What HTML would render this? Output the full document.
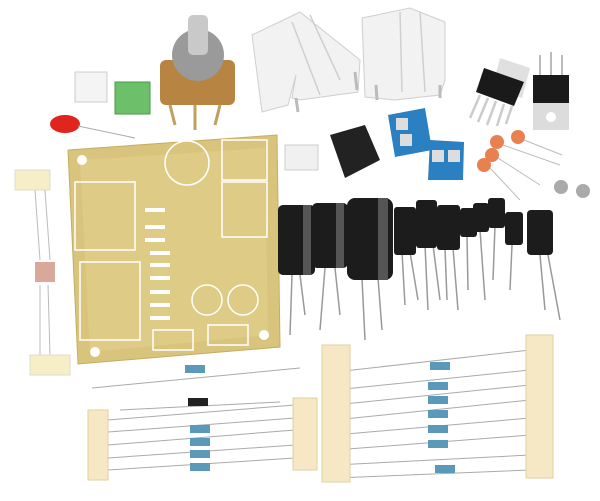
<!DOCTYPE html><html><head><style>html,body{margin:0;padding:0;background:#fff}svg{display:block}</style></head><body>
<svg width="600" height="501" viewBox="0 0 600 501" xmlns="http://www.w3.org/2000/svg" font-family="Liberation Sans, sans-serif">
<rect width="600" height="501" fill="#fff"/>
<!-- heatsinks -->
<g fill="#f2f2f2" stroke="#cfcfcf">
<path d="M252 35 L300 12 L360 60 L358 92 L300 100 L292 98 L296 75 L288 105 L262 112 Z"/>
<path d="M362 18 L410 8 L445 22 L445 80 L440 95 L395 100 L365 97 Z"/>
</g>
<g stroke="#cfcfcf" fill="none" stroke-width="1.5"><path d="M292 22 L320 95 M310 15 L340 80 M400 12 L402 92 M420 12 L425 92"/></g>
<g stroke="#bbb" stroke-width="3"><path d="M296 98 L298 112 M355 72 L357 90 M376 85 L377 100 M440 85 L440 98"/></g>
<!-- potentiometer -->
<rect x="160" y="60" width="75" height="45" fill="#b88442" rx="6"/>
<circle cx="198" cy="55" r="26" fill="#9a9a9a"/>
<rect x="188" y="15" width="20" height="40" fill="#c9c9c9" rx="5"/>
<g stroke="#c0a060" stroke-width="3"><path d="M170 105 L175 125 M195 105 L195 130 M220 105 L215 125"/></g>
<!-- small connectors -->
<rect x="75" y="72" width="32" height="30" fill="#f4f4f4" stroke="#ccc"/>
<rect x="115" y="82" width="35" height="32" fill="#6dc06a" stroke="#4a9a48"/>
<ellipse cx="65" cy="124" rx="15" ry="9" fill="#e0241e"/>
<path d="M78 126 L135 138" stroke="#aaa"/>
<!-- transistors -->
<polygon points="500,58 530,68 522,98 492,88" fill="#e0e0e0"/>
<polygon points="484,68 524,82 514,106 476,92" fill="#1a1a1a"/>
<g stroke="#ccc" stroke-width="2.5"><path d="M480 95 L470 118 M488 98 L478 122 M496 101 L487 125 M504 104 L497 126 M512 106 L506 124"/></g>
<rect x="533" y="100" width="36" height="30" fill="#dcdcdc"/><circle cx="551" cy="117" r="5" fill="#fff"/>
<rect x="533" y="75" width="36" height="28" fill="#1a1a1a"/>
<g stroke="#bbb" stroke-width="2"><path d="M540 55 L540 75 M551 52 L551 75 M562 55 L562 75"/></g>
<!-- terminal blocks -->
<polygon points="388,115 425,108 432,150 395,157" fill="#2a80c0"/><rect x="396" y="118" width="12" height="12" fill="#ddd"/><rect x="400" y="134" width="12" height="12" fill="#ddd"/>
<polygon points="430,140 464,142 463,180 428,180" fill="#2a80c0"/><rect x="432" y="150" width="12" height="12" fill="#ddd"/><rect x="448" y="150" width="12" height="12" fill="#ddd"/>
<!-- jack -->
<polygon points="330,135 365,125 380,160 345,178" fill="#222"/><rect x="285" y="145" width="33" height="25" fill="#f0f0f0" stroke="#ccc"/>
<!-- ceramic caps -->
<g fill="#e88050"><circle cx="518" cy="137" r="7"/><circle cx="497" cy="142" r="7"/><circle cx="492" cy="155" r="7"/><circle cx="484" cy="165" r="7"/></g>
<g stroke="#bbb"><path d="M524 140 L562 155 M503 145 L560 165 M498 158 L540 185 M490 168 L520 200"/></g>
<circle cx="561" cy="187" r="7" fill="#aaa"/><circle cx="583" cy="191" r="7" fill="#aaa"/>
<!-- PCB -->
<polygon points="68,150 277,135 280,347 78,364" fill="#d8c47c" stroke="#c4ae62"/>
<polygon points="80,160 265,148 268,335 90,352" fill="#e2d28e" opacity=".6"/>
<g fill="none" stroke="#fff" stroke-width="1.5">
<rect x="75" y="182" width="60" height="68"/><rect x="80" y="262" width="60" height="78"/>
<rect x="222" y="140" width="45" height="40"/><rect x="222" y="182" width="45" height="55"/>
<circle cx="187" cy="163" r="22"/><circle cx="207" cy="300" r="15"/><circle cx="243" cy="300" r="15"/>
<rect x="153" y="330" width="40" height="20"/><rect x="208" y="325" width="40" height="20"/>
</g>
<g stroke="#fff" stroke-width="4"><path d="M145 210 L165 210 M145 227 L165 227 M145 240 L165 240 M150 253 L170 253 M150 265 L170 265 M150 278 L170 278 M150 292 L170 292 M150 305 L170 305 M150 318 L170 318"/></g>
<circle cx="82" cy="160" r="5" fill="#fff"/><circle cx="95" cy="352" r="5" fill="#fff"/><circle cx="264" cy="335" r="5" fill="#fff"/>
<!-- electrolytic caps -->
<g stroke="#999" stroke-width="1.5"><path d="M292 275 L290 335 M300 275 L305 315 M325 268 L320 330 M335 268 L340 315 M362 278 L365 340 M378 278 L382 330 M402 252 L405 305 M410 252 L418 300 M425 245 L428 310 M433 245 L440 300 M445 248 L447 300 M453 248 L458 310 M467 235 L468 290 M480 230 L485 300 M495 226 L493 280 M512 245 L510 290 M540 255 L545 310 M548 255 L560 320"/></g>
<g fill="#1c1c1c">
<rect x="278" y="205" width="37" height="70" rx="5"/><rect x="312" y="203" width="36" height="65" rx="5"/>
<rect x="347" y="198" width="46" height="82" rx="8"/><rect x="394" y="207" width="22" height="48" rx="3"/>
<rect x="416" y="200" width="21" height="48" rx="3"/><rect x="437" y="205" width="23" height="45" rx="3"/>
<rect x="460" y="208" width="17" height="29" rx="3"/><rect x="473" y="203" width="16" height="29" rx="3"/>
<rect x="488" y="198" width="17" height="30" rx="3"/><rect x="505" y="212" width="18" height="33" rx="3"/>
<rect x="527" y="210" width="26" height="45" rx="4"/>
</g>
<g fill="#555"><rect x="303" y="205" width="8" height="70"/><rect x="336" y="203" width="8" height="65"/><rect x="378" y="198" width="10" height="82"/></g>
<!-- left loose parts -->
<rect x="15" y="170" width="35" height="20" fill="#f7eec8" stroke="#ddc"/>
<path d="M35 190 L40 260 M45 190 L50 260 M40 285 L40 355 M48 285 L50 355" stroke="#bbb"/>
<rect x="35" y="262" width="20" height="20" fill="#d9a89a"/>
<rect x="30" y="355" width="40" height="20" fill="#f7eec8" stroke="#ddc"/>
<!-- resistor tape bundles -->
<g stroke="#aaa" stroke-width="1"><path d="M92 388 L300 368 M120 410 L280 402 M108 420 L295 405 M108 432 L295 418 M108 445 L295 430 M108 458 L295 445 M108 470 L295 458"/>
<path d="M335 372 L530 350 M335 390 L530 370 M335 405 L530 385 M335 420 L530 400 M335 435 L530 418 M335 450 L530 435 M335 465 L530 455 M335 478 L530 470"/></g>
<g fill="#5a9ab8"><rect x="185" y="365" width="20" height="8"/><rect x="190" y="425" width="20" height="8"/><rect x="190" y="438" width="20" height="8"/><rect x="190" y="450" width="20" height="8"/><rect x="190" y="463" width="20" height="8"/>
<rect x="430" y="362" width="20" height="8"/><rect x="428" y="382" width="20" height="8"/><rect x="428" y="396" width="20" height="8"/><rect x="428" y="410" width="20" height="8"/><rect x="428" y="425" width="20" height="8"/><rect x="428" y="440" width="20" height="8"/><rect x="435" y="465" width="20" height="8"/></g>
<rect x="188" y="398" width="20" height="8" fill="#222"/>
<g fill="#f6e8c4" stroke="#e0cfa0"><rect x="88" y="410" width="20" height="70"/><rect x="293" y="398" width="24" height="72"/><rect x="322" y="345" width="28" height="137"/><rect x="526" y="335" width="27" height="143"/></g>
</svg>
</body></html>
